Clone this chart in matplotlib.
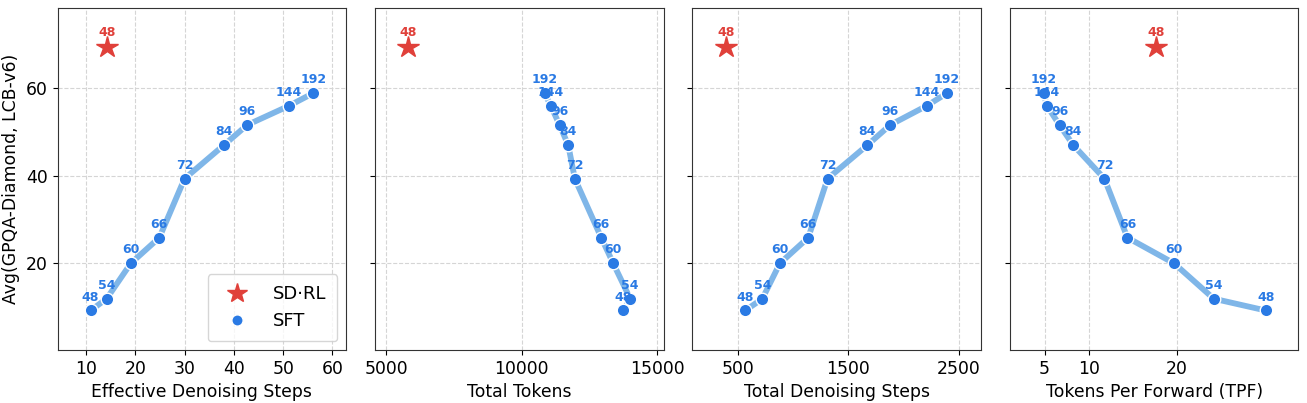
import matplotlib.pyplot as plt

# block sizes used as point labels
labels = [48, 54, 60, 66, 72, 84, 96, 144, 192]

# SFT curve
sft_score = [9.1, 11.8, 19.9, 25.8, 39.3, 47.0, 51.6, 56.0, 58.9]
sft_eff_steps = [10.95, 14.2, 19.1, 24.9, 30.0, 38.0, 42.7, 51.2, 56.1]
sft_tokens = [13742, 14000, 13373, 12930, 11956, 11712, 11391, 11070, 10838]
sft_total_steps = [563, 718, 877, 1135, 1310, 1672, 1878, 2210, 2395]
sft_tpf = [30.1, 24.2, 19.7, 14.4, 11.8, 8.26, 6.7, 5.27, 4.9]

# SD-RL single point
rl_label = 48
rl_score = 69.4
rl_eff_steps = 14.3
rl_tokens = 5797
rl_total_steps = 385
rl_tpf = 17.7

xlabels = ["Effective Denoising Steps", "Total Tokens",
           "Total Denoising Steps", "Tokens Per Forward (TPF)"]
sft_x = [sft_eff_steps, sft_tokens, sft_total_steps, sft_tpf]
rl_x = [rl_eff_steps, rl_tokens, rl_total_steps, rl_tpf]
xlims = [(4.26, 62.8), (4579, 15232), (83, 2703), (1.06, 33.8)]
xticks = [[10, 20, 30, 40, 50, 60], [5000, 10000, 15000],
          [500, 1500, 2500], [5, 10, 20]]

line_c = "#7fb6e8"
dot_c = "#2a7ae4"
star_c = "#e0403a"

fig, axes = plt.subplots(1, 4, figsize=(13.07, 4.03), dpi=100, sharey=True)
fig.subplots_adjust(left=0.0441, right=0.9934, top=0.98, bottom=0.131, wspace=0.1)

for i, ax in enumerate(axes):
    xs = sft_x[i]
    ax.grid(True, ls="--", color="#d5d5d5", lw=0.8)
    ax.set_axisbelow(True)
    ax.plot(xs, sft_score, color=line_c, lw=4.2, zorder=2)
    ax.plot(xs, sft_score, ls="none", marker="o", ms=9, color=dot_c,
            mec="white", mew=1, zorder=3, label="SFT")
    ax.plot([rl_x[i]], [rl_score], ls="none", marker="*", ms=16, color=star_c,
            zorder=4, label="SD·RL")
    for x, y, t in zip(xs, sft_score, labels):
        ax.annotate(str(t), (x, y), xytext=(0, 5), textcoords="offset points",
                    ha="center", va="bottom", fontsize=9, fontweight="bold",
                    color=dot_c, zorder=5)
    ax.annotate(str(rl_label), (rl_x[i], rl_score), xytext=(0, 6),
                textcoords="offset points", ha="center", va="bottom",
                fontsize=9, fontweight="bold", color=star_c, zorder=5)
    ax.set_xlim(*xlims[i])
    ax.set_xticks(xticks[i])
    ax.set_xlabel(xlabels[i], fontsize=12.4)
    ax.tick_params(labelsize=12.4)
    for s in ax.spines.values():
        s.set_color("#333333")

axes[0].set_ylim(0, 78.4)
axes[0].set_yticks([20, 40, 60])
axes[0].set_ylabel("Avg(GPQA-Diamond, LCB-v6)", fontsize=12.4)

h, l = axes[0].get_legend_handles_labels()
axes[0].legend([h[1], h[0]], [l[1], l[0]], loc="lower right", fontsize=13,
               markerscale=0.9, borderpad=0.6, handletextpad=1.0)

fig.savefig("out.png")
